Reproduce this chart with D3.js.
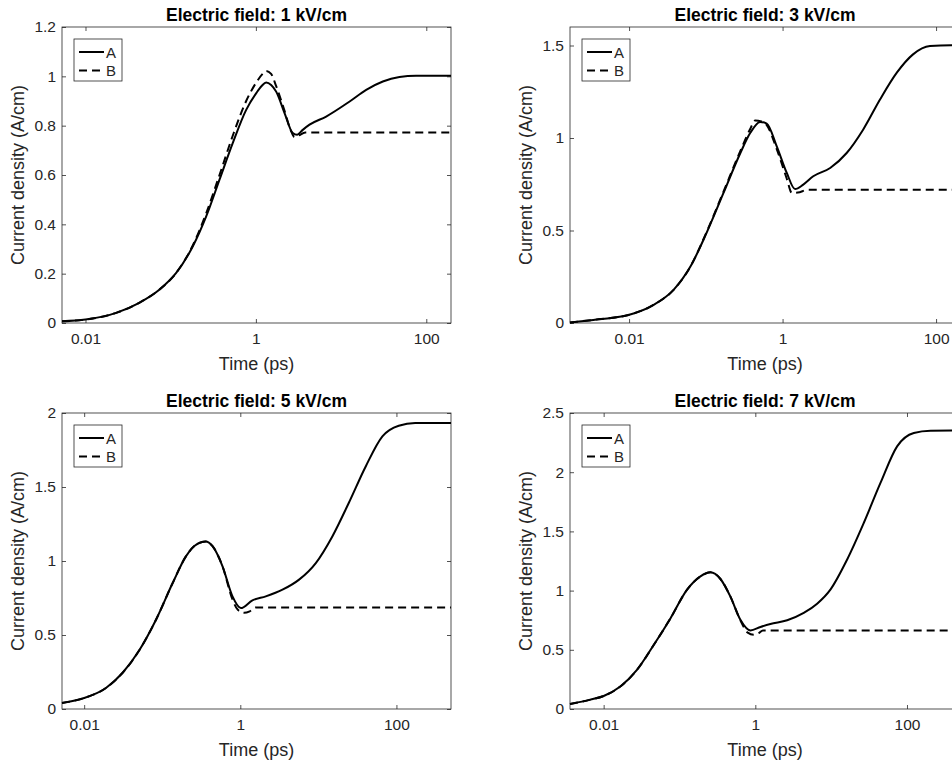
<!DOCTYPE html>
<html>
<head>
<meta charset="utf-8">
<script src="https://cdn.jsdelivr.net/npm/d3@7"></script>
<style>
  body { margin: 0; background: #fff; }
  svg { display: block; font-family: "Liberation Sans", Arial, Helvetica, sans-serif; }
</style>
</head>
<body>
<svg id="chart"></svg>
<script>
// Current density vs time, four field strengths
var titles = ["Electric field: 1 kV/cm", "Electric field: 3 kV/cm",
              "Electric field: 5 kV/cm", "Electric field: 7 kV/cm"];
var seriesNames = ["A", "B"];

// axis limits (time in ps, current density in A/cm)
var xStart = [0.0053, 0.0017, 0.0052, 0.0036];
var xEnd = [195, 205, 500, 500];
var yMax = [1.2, 1.6, 2, 2.5];
var xTicks = [0.01, 1, 100];
var yTicks = [
  [0, 0.2, 0.4, 0.6, 0.8, 1, 1.2],
  [0, 0.5, 1, 1.5],
  [0, 0.5, 1, 1.5, 2],
  [0, 0.5, 1, 1.5, 2, 2.5]
];

// 1 kV/cm
var time1A = [0.0053, 0.01, 0.0229, 0.0427, 0.0741, 0.116, 0.182, 0.261, 0.374, 0.536, 0.769, 1.01, 1.175, 1.32, 1.51, 1.73, 2.17, 2.71, 3.05, 3.55, 4.26, 6.68, 12.6, 19.7, 30.9, 48.4, 75.9, 195];
var dens1A = [0.007, 0.014, 0.041, 0.082, 0.136, 0.203, 0.311, 0.432, 0.581, 0.73, 0.864, 0.932, 0.962, 0.975, 0.965, 0.938, 0.851, 0.77, 0.763, 0.783, 0.804, 0.837, 0.898, 0.945, 0.979, 0.997, 1.002, 1.002];
var time1B = [0.0053, 0.01, 0.0229, 0.0427, 0.0741, 0.116, 0.182, 0.261, 0.374, 0.536, 0.769, 1.01, 1.2, 1.32, 1.51, 1.73, 2.17, 2.57, 2.84, 3.16, 3.8, 195];
var dens1B = [0.007, 0.014, 0.041, 0.082, 0.136, 0.203, 0.315, 0.445, 0.6, 0.76, 0.9, 0.975, 1.01, 1.022, 1.01, 0.96, 0.86, 0.78, 0.754, 0.76, 0.772, 0.772];

// 3 kV/cm
var time2A = [0.0017, 0.004, 0.0098, 0.0209, 0.038, 0.063, 0.102, 0.17, 0.282, 0.38, 0.509, 0.622, 0.84, 1.135, 1.455, 1.86, 2.51, 4.17, 6.84, 11.2, 18.6, 30.8, 50.1, 83.2, 158, 205];
var dens2A = [0.003, 0.02, 0.043, 0.098, 0.179, 0.305, 0.486, 0.703, 0.919, 1.028, 1.087, 1.078, 0.955, 0.811, 0.724, 0.748, 0.793, 0.838, 0.919, 1.045, 1.208, 1.353, 1.452, 1.497, 1.502, 1.502];
var time2B = [0.0017, 0.004, 0.0098, 0.0209, 0.038, 0.063, 0.102, 0.17, 0.282, 0.38, 0.44, 0.53, 0.622, 0.84, 1.135, 1.32, 1.58, 2.14, 205];
var dens2B = [0.003, 0.02, 0.043, 0.098, 0.179, 0.305, 0.49, 0.71, 0.93, 1.05, 1.095, 1.09, 1.07, 0.94, 0.78, 0.703, 0.705, 0.72, 0.72];

// 5 kV/cm
var time3A = [0.0052, 0.01, 0.019, 0.0309, 0.0513, 0.0832, 0.136, 0.201, 0.263, 0.36, 0.441, 0.592, 0.794, 1.016, 1.43, 2.12, 3.47, 5.66, 9.27, 15.1, 24.5, 40.4, 66.1, 107, 174, 500];
var dens3A = [0.041, 0.074, 0.142, 0.243, 0.4, 0.603, 0.851, 1.031, 1.105, 1.132, 1.1, 0.964, 0.761, 0.682, 0.734, 0.761, 0.806, 0.874, 0.986, 1.166, 1.392, 1.639, 1.842, 1.914, 1.932, 1.932];
var time3B = [0.0052, 0.01, 0.019, 0.0309, 0.0513, 0.0832, 0.136, 0.201, 0.263, 0.36, 0.441, 0.592, 0.794, 0.93, 1.12, 1.32, 1.58, 500];
var dens3B = [0.041, 0.074, 0.142, 0.243, 0.4, 0.603, 0.851, 1.031, 1.105, 1.132, 1.1, 0.964, 0.74, 0.67, 0.65, 0.66, 0.686, 0.686];

// 7 kV/cm
var time4A = [0.0036, 0.00668, 0.01, 0.0166, 0.0275, 0.0457, 0.0759, 0.126, 0.189, 0.256, 0.347, 0.468, 0.635, 0.861, 1.17, 1.58, 2.63, 4.35, 6.53, 9.77, 16.2, 26.9, 44.7, 74.1, 123, 204, 500];
var dens4A = [0.042, 0.079, 0.11, 0.19, 0.33, 0.54, 0.765, 1.008, 1.12, 1.154, 1.098, 0.951, 0.754, 0.664, 0.693, 0.718, 0.749, 0.811, 0.889, 1.008, 1.261, 1.571, 1.909, 2.218, 2.331, 2.35, 2.352];
var time4B = [0.0036, 0.00668, 0.01, 0.0166, 0.0275, 0.0457, 0.0759, 0.126, 0.189, 0.256, 0.347, 0.468, 0.635, 0.794, 0.95, 1.1, 1.26, 500];
var dens4B = [0.042, 0.079, 0.11, 0.19, 0.33, 0.54, 0.765, 1.008, 1.12, 1.154, 1.098, 0.951, 0.75, 0.645, 0.628, 0.64, 0.664, 0.664];

var times = [[time1A, time1B], [time2A, time2B], [time3A, time3B], [time4A, time4B]];
var dens = [[dens1A, dens1B], [dens2A, dens2B], [dens3A, dens3B], [dens4A, dens4B]];

// SVG size and the four axes boxes (right column runs past the window edge)
var svgWidth = 952, svgHeight = 765;
var boxes = [
  {left: 62, top: 27, width: 389, height: 296},
  {left: 570, top: 27, width: 390, height: 296},
  {left: 62, top: 413, width: 389, height: 296},
  {left: 570, top: 413, width: 390, height: 296}
];
var axisColor = "#262626";

var svg = d3.select("#chart")
  .attr("width", svgWidth)
  .attr("height", svgHeight);

boxes.forEach(function(box, p) {
  var g = svg.append("g")
    .attr("transform", "translate(" + box.left + "," + box.top + ")");

  var x = d3.scaleLog()
    .domain([xStart[p], xEnd[p]])
    .range([0, box.width]);
  var y = d3.scaleLinear()
    .domain([0, yMax[p]])
    .range([box.height, 0]);

  // MATLAB style: ticks point inward on all four sides
  var fmt = function(d) { return String(d); };
  var xb = g.append("g").attr("transform", "translate(0," + box.height + ")")
    .call(d3.axisBottom(x).tickValues(xTicks).tickFormat(fmt).tickSizeInner(-4).tickSizeOuter(0).tickPadding(10));
  var xt = g.append("g")
    .call(d3.axisTop(x).tickValues(xTicks).tickFormat("").tickSizeInner(-4).tickSizeOuter(0));
  var yl = g.append("g")
    .call(d3.axisLeft(y).tickValues(yTicks[p]).tickFormat(fmt).tickSizeInner(-4).tickSizeOuter(0).tickPadding(6));
  var yr = g.append("g").attr("transform", "translate(" + box.width + ",0)")
    .call(d3.axisRight(y).tickValues(yTicks[p]).tickFormat("").tickSizeInner(-4).tickSizeOuter(0));

  [xb, xt, yl, yr].forEach(function(a) {
    a.select(".domain").remove();
    a.selectAll(".tick line").attr("stroke", axisColor).attr("stroke-width", 0.8);
    a.selectAll(".tick text")
      .attr("fill", axisColor)
      .style("font-family", "'Liberation Sans', Arial, sans-serif")
      .style("font-size", "15.5px");
  });

  // box
  g.append("rect")
    .attr("width", box.width)
    .attr("height", box.height)
    .attr("fill", "none")
    .attr("stroke", axisColor)
    .attr("stroke-width", 0.8);

  // curves
  var line = d3.line()
    .x(function(d) { return x(d[0]); })
    .y(function(d) { return y(d[1]); })
    .curve(d3.curveMonotoneX);

  [0, 1].forEach(function(s) {
    var pts = d3.zip(times[p][s], dens[p][s]);
    g.append("path")
      .datum(pts)
      .attr("d", line)
      .attr("fill", "none")
      .attr("stroke", "#000")
      .attr("stroke-width", 2)
      .attr("stroke-linejoin", "round")
      .attr("stroke-dasharray", s == 1 ? "8,5" : null);
  });

  // title and axis labels
  g.append("text")
    .attr("x", box.width / 2)
    .attr("y", -6.5)
    .attr("text-anchor", "middle")
    .style("font-size", "17.5px")
    .style("font-weight", "bold")
    .text(titles[p]);

  g.append("text")
    .attr("x", box.width / 2)
    .attr("y", box.height + 47)
    .attr("text-anchor", "middle")
    .attr("fill", axisColor)
    .style("font-size", "18px")
    .text("Time (ps)");

  g.append("text")
    .attr("transform", "translate(-38.5," + (box.height / 2) + ") rotate(-90)")
    .attr("text-anchor", "middle")
    .attr("fill", axisColor)
    .style("font-size", "18px")
    .text("Current density (A/cm)");

  // legend
  var lg = g.append("g").attr("transform", "translate(12,12)");
  lg.append("rect")
    .attr("width", 48)
    .attr("height", 42)
    .attr("fill", "#fff")
    .attr("stroke", axisColor)
    .attr("stroke-width", 0.8);
  seriesNames.forEach(function(name, s) {
    var ly = 13 + s * 18.5;
    lg.append("line")
      .attr("x1", 5).attr("x2", 30)
      .attr("y1", ly).attr("y2", ly)
      .attr("stroke", "#000")
      .attr("stroke-width", 2)
      .attr("stroke-dasharray", s == 1 ? "8,5" : null);
    lg.append("text")
      .attr("x", 32)
      .attr("y", ly + 5.5)
      .attr("fill", axisColor)
      .style("font-size", "15px")
      .text(name);
  });
});
</script>
</body>
</html>
